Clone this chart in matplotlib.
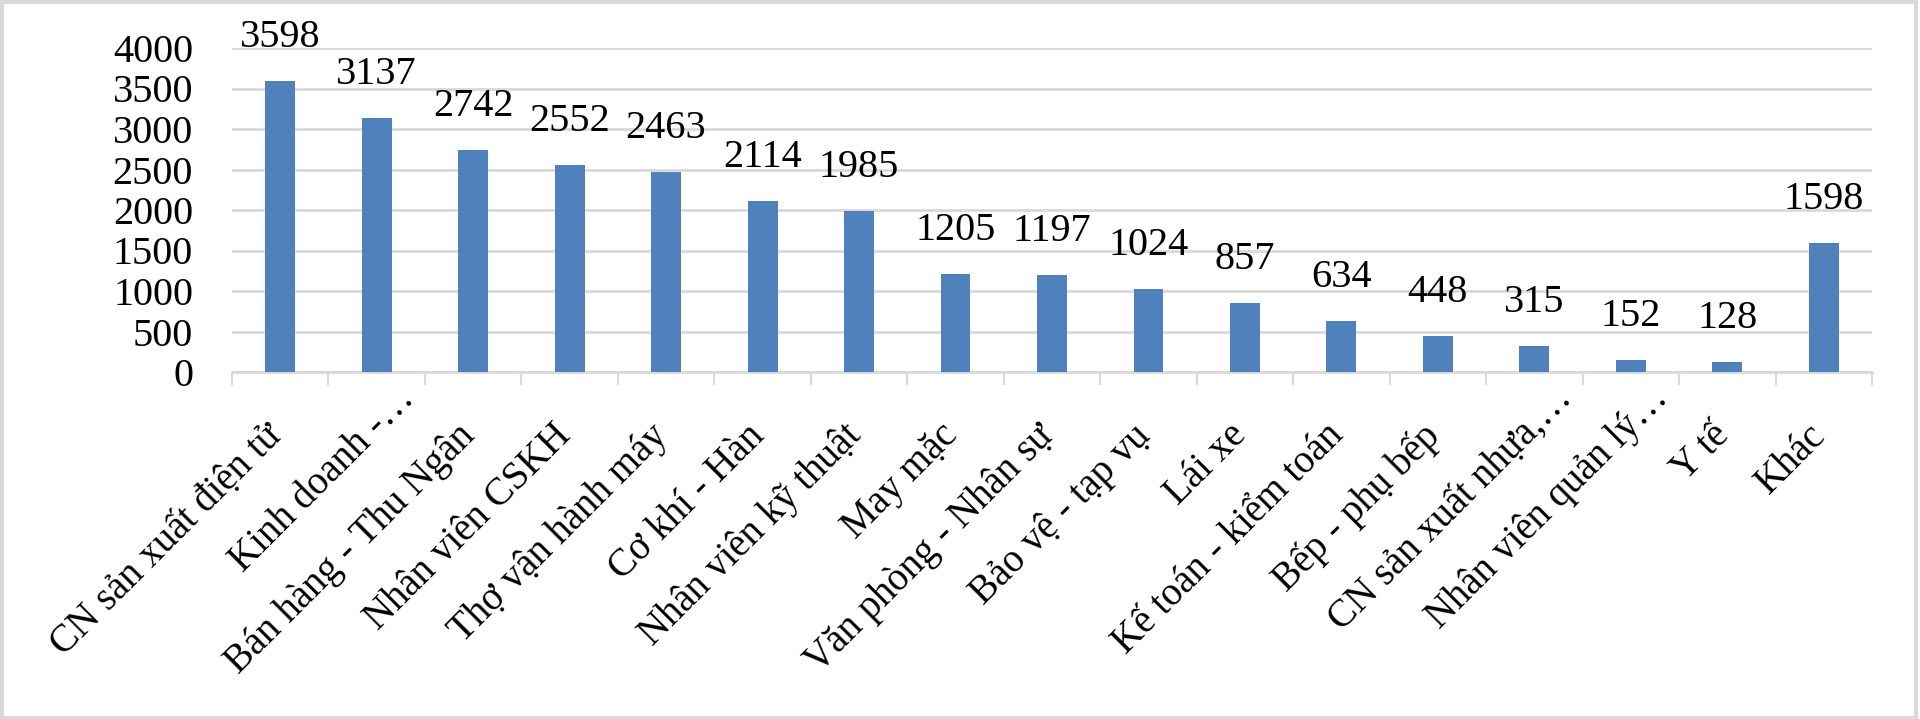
import matplotlib
matplotlib.use("Agg")
import matplotlib.pyplot as plt
import matplotlib.transforms as mtransforms
from matplotlib.patches import Rectangle

categories = [
    "CN sản xuất điện tử", "Kinh doanh -…", "Bán hàng - Thu Ngân", "Nhân viên CSKH",
    "Thợ vận hành máy", "Cơ khí - Hàn", "Nhân viên kỹ thuật", "May mặc",
    "Văn phòng - Nhân sự", "Bảo vệ - tạp vụ", "Lái xe", "Kế toán - kiểm toán",
    "Bếp - phụ bếp", "CN sản xuất nhựa,…", "Nhân viên quản lý…", "Y tế", "Khác",
]
values = [3598, 3137, 2742, 2552, 2463, 2114, 1985, 1205, 1197, 1024, 857, 634,
          448, 315, 152, 128, 1598]
yticks = [0, 500, 1000, 1500, 2000, 2500, 3000, 3500, 4000]

plt.rcParams['font.family'] = ['Liberation Serif', 'DejaVu Serif']
FS = 29
FSX = 28

fig = plt.figure(figsize=(19.2, 7.19), dpi=100)
ax = fig.add_axes([232/1920, 1-372/719, (1872-232)/1920, (372-48)/719])

x = list(range(len(categories)))
bars = ax.bar(x, values, width=0.31, color="#4F81BD", zorder=3)
for xi, v in zip(x, values):
    ax.annotate(str(v), (xi, v), xytext=(0, 18), textcoords="offset points",
                ha="center", va="bottom", fontsize=FS, color="black",
                annotation_clip=False)

ax.set_xlim(-0.5, len(categories) - 0.5)
ax.set_ylim(0, 4000)
ax.set_yticks(yticks)
ax.set_yticklabels([str(t) for t in yticks], fontsize=FS)
ax.tick_params(axis="y", length=0, pad=28)
ax.yaxis.grid(True, color="#D9D9D9", linewidth=2, zorder=0)
ax.set_axisbelow(True)

ax.set_xticks(x)
ax.set_xticklabels([])
ax.tick_params(axis="x", which="major", length=0)
ax.set_xticks([i - 0.5 for i in range(len(categories) + 1)], minor=True)
ax.tick_params(axis="x", which="minor", length=9.5, width=1.5, color="#D9D9D9")

# category labels, rotated 45 degrees, anchored at top-right under each bar
base = ax.get_xaxis_transform()
for xi, name in zip(x, categories):
    dx, dy = -0.17, -0.45
    if name.endswith("…"):  # truncated labels sit further up-right
        dx, dy = dx + 0.36, dy + 0.37
    offset = mtransforms.ScaledTranslation(dx, dy, fig.dpi_scale_trans)
    ax.text(xi, 0, name, transform=base + offset, fontsize=FSX, rotation=45,
            rotation_mode="anchor", ha="right", va="top", clip_on=False)

for s in ["top", "right", "left"]:
    ax.spines[s].set_visible(False)
ax.spines["bottom"].set_color("#D9D9D9")
ax.spines["bottom"].set_linewidth(2)

fig.patches.append(Rectangle((0.001, 0.002), 0.997, 0.995, transform=fig.transFigure,
                             fill=False, edgecolor="#D9D9D9", linewidth=3))

fig.savefig("out.png", dpi=100)
